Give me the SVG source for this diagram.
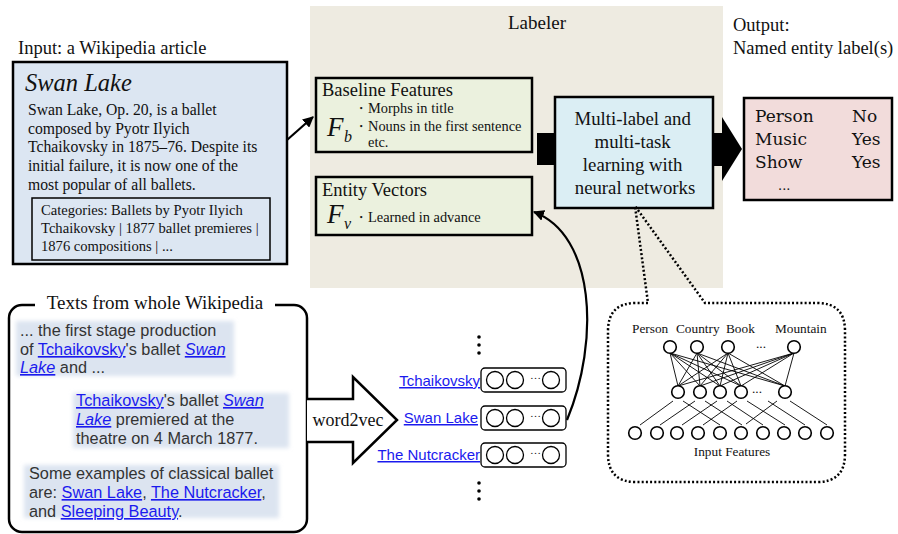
<svg xmlns="http://www.w3.org/2000/svg" width="898" height="534" viewBox="0 0 898 534">
<style>
.serif{font-family:"Liberation Serif","Times New Roman",serif;fill:#111}
.sans{font-family:"Liberation Sans",Arial,sans-serif;fill:#333;font-size:16.3px}
.vlabel{font-family:"Liberation Sans",Arial,sans-serif;font-size:15px}
.link{fill:#1a1aee;text-decoration:underline}
.box{stroke:#000;stroke-width:2.5}
.nn{fill:#fff;stroke:#000;stroke-width:1.6}
.nl{stroke:#000;stroke-width:0.9}
.vec{fill:#fff;stroke:#000;stroke-width:1.3}
.dot{fill:none;stroke:#000;stroke-width:2.5;stroke-dasharray:2 2.2}
</style>
<defs>
<marker id="ah" viewBox="0 0 10 10" refX="9" refY="5" markerWidth="5" markerHeight="5" orient="auto">
<path d="M0,0 L10,5 L0,10 z" fill="#000"/>
</marker>
<filter id="blur" x="-10%" y="-20%" width="120%" height="140%"><feGaussianBlur stdDeviation="2"/></filter>
<g id="vecbox">
<rect class="vec" x="0" y="0" width="85" height="24" rx="4"/>
<circle cx="14" cy="12" r="8.5" fill="none" stroke="#000" stroke-width="1.3"/>
<circle cx="34" cy="12" r="8.5" fill="none" stroke="#000" stroke-width="1.3"/>
<text x="49" y="11" class="serif" font-size="11">…</text>
<circle cx="70" cy="12" r="8.5" fill="none" stroke="#000" stroke-width="1.3"/>
</g>
</defs>

<g id="labeler">
<rect x="310" y="6" width="413" height="282" fill="#eeebe1"/>
<text x="537" y="29" class="serif" font-size="19" text-anchor="middle">Labeler</text>
</g>

<g id="output-title">
<text x="733" y="31" class="serif" font-size="18.5">Output:</text>
<text x="733" y="54" class="serif" font-size="18.5">Named entity label(s)</text>
</g>

<g id="input-article">
<text x="18" y="54" class="serif" font-size="18.5">Input: a Wikipedia article</text>
<rect class="box" x="13" y="62" width="274" height="202" fill="#dce6f2"/>
<text x="25" y="91" class="serif" font-size="24.5" font-style="italic">Swan Lake</text>
<text class="serif" font-size="15.7">
<tspan x="28" y="115">Swan Lake, Op. 20, is a ballet</tspan>
<tspan x="28" y="134">composed by Pyotr Ilyich</tspan>
<tspan x="28" y="152">Tchaikovsky in 1875–76. Despite its</tspan>
<tspan x="28" y="171">initial failure, it is now one of the</tspan>
<tspan x="28" y="190">most popular of all ballets.</tspan>
</text>
<rect x="32" y="198" width="238" height="62" fill="none" stroke="#000" stroke-width="1.5"/>
<text class="serif" font-size="14.6">
<tspan x="41" y="215">Categories: Ballets by Pyotr Ilyich</tspan>
<tspan x="41" y="233">Tchaikovsky | 1877 ballet premieres |</tspan>
<tspan x="41" y="251">1876 compositions | ...</tspan>
</text>
</g>

<g id="baseline-features">
<rect class="box" x="316" y="78" width="216" height="74" fill="#ebf1de"/>
<text x="322" y="96" class="serif" font-size="18.5">Baseline Features</text>
<text x="354" y="113" class="serif" font-size="14.4">・Morphs in title</text>
<text x="354" y="131" class="serif" font-size="14.4">・Nouns in the first sentence</text>
<text x="368" y="147" class="serif" font-size="14.4">etc.</text>
<text x="327" y="136" class="serif" font-size="27" font-style="italic">F</text>
<text x="344" y="142" class="serif" font-size="16" font-style="italic">b</text>
</g>

<g id="entity-vectors">
<rect class="box" x="316" y="177" width="216" height="58" fill="#ebf1de"/>
<text x="322" y="196" class="serif" font-size="18.5">Entity Vectors</text>
<text x="327" y="223" class="serif" font-size="27" font-style="italic">F</text>
<text x="344" y="229" class="serif" font-size="16" font-style="italic">v</text>
<text x="354" y="222" class="serif" font-size="14.4">・Learned in advance</text>
</g>

<g id="multilabel">
<rect class="box" x="555" y="97" width="158" height="111" fill="#dbeef4"/>
<text class="serif" font-size="18.8" text-anchor="middle">
<tspan x="635" y="125">Multi-label and</tspan>
<tspan x="635" y="148">multi-task</tspan>
<tspan x="635" y="171">learning with</tspan>
<tspan x="635" y="194">neural networks</tspan>
</text>
</g>

<g id="output-box">
<rect class="box" x="744" y="98" width="148" height="102" fill="#f2dcdb"/>
<g font-family="'DejaVu Serif','Liberation Serif',serif" font-size="17" fill="#111">
<text x="755" y="122">Person</text>
<text x="852" y="122">No</text>
<text x="755" y="145">Music</text>
<text x="852" y="145">Yes</text>
<text x="755" y="168">Show</text>
<text x="852" y="168">Yes</text>
<text x="778" y="190" font-size="13">...</text>
</g>
</g>

<g id="texts-wikipedia">
<rect x="9" y="305" width="298" height="227" rx="13" fill="none" stroke="#000" stroke-width="2.5"/>
<rect x="35" y="294" width="240" height="22" fill="#fff"/>
<text x="155" y="309" class="serif" font-size="19" text-anchor="middle">Texts from whole Wikipedia</text>
<rect x="16" y="321" width="218" height="55" fill="#dce4f0" filter="url(#blur)"/>
<rect x="73" y="393" width="216" height="55" fill="#dce4f0" filter="url(#blur)"/>
<rect x="24" y="465" width="255" height="53" fill="#dce4f0" filter="url(#blur)"/>
<text class="sans">
<tspan x="20" y="336">... the first stage production</tspan>
<tspan x="20" y="355">of </tspan><tspan class="link">Tchaikovsky</tspan><tspan>'s ballet </tspan><tspan class="link" font-style="italic">Swan</tspan>
<tspan x="20" y="373" class="link" font-style="italic">Lake</tspan><tspan> and ...</tspan>
</text>
<text class="sans">
<tspan x="76" y="406" class="link">Tchaikovsky</tspan><tspan>'s ballet </tspan><tspan class="link" font-style="italic">Swan</tspan>
<tspan x="76" y="425" class="link" font-style="italic">Lake</tspan><tspan> premiered at the</tspan>
<tspan x="76" y="444">theatre on 4 March 1877.</tspan>
</text>
<text class="sans">
<tspan x="29" y="479">Some examples of classical ballet</tspan>
<tspan x="29" y="498">are: </tspan><tspan class="link">Swan Lake</tspan><tspan>, </tspan><tspan class="link">The Nutcracker</tspan><tspan>,</tspan>
<tspan x="29" y="517">and </tspan><tspan class="link">Sleeping Beauty</tspan><tspan>.</tspan>
</text>
</g>

<g id="word2vec">
<path d="M307 399 H353 V377 L397 420 L353 463 V442 H307" fill="#fff" stroke="#000" stroke-width="2.5" stroke-linejoin="miter"/>
<text x="348" y="426" class="serif" font-size="18" text-anchor="middle">word2vec</text>
</g>

<g id="vectors">
<g fill="#000"><circle cx="479" cy="337" r="1.8"/><circle cx="479" cy="345" r="1.8"/><circle cx="479" cy="353" r="1.8"/>
<circle cx="479" cy="483" r="1.8"/><circle cx="479" cy="491" r="1.8"/><circle cx="479" cy="499" r="1.8"/></g>
<text x="480" y="386" class="vlabel link" text-anchor="end">Tchaikovsky</text>
<use href="#vecbox" x="481" y="368"/>
<text x="478" y="423" class="vlabel link" text-anchor="end">Swan Lake</text>
<use href="#vecbox" x="481" y="406"/>
<text x="480" y="460" class="vlabel link" text-anchor="end">The Nutcracker</text>
<use href="#vecbox" x="481" y="443"/>
</g>

<g id="neural-net">
<path class="dot" d="M648 303 H636 Q608 303 608 331 V454 Q608 482 636 482 H817 Q845 482 845 454 V331 Q845 303 817 303 H705 L635 206 Z"/>
<g class="serif" font-size="13.3">
<text x="632" y="333">Person</text>
<text x="676" y="333">Country</text>
<text x="726" y="333">Book</text>
<text x="775" y="333">Mountain</text>
<text x="756" y="348">...</text>
<text x="752" y="393">...</text>
<text x="732" y="456" text-anchor="middle">Input Features</text>
</g>
<g class="nl">
<line x1="670" y1="353" x2="678" y2="386"/><line x1="670" y1="353" x2="700" y2="386"/><line x1="670" y1="353" x2="720" y2="386"/><line x1="670" y1="353" x2="741" y2="386"/><line x1="670" y1="353" x2="785" y2="386"/>
<line x1="697" y1="353" x2="678" y2="386"/><line x1="697" y1="353" x2="700" y2="386"/><line x1="697" y1="353" x2="720" y2="386"/><line x1="697" y1="353" x2="741" y2="386"/><line x1="697" y1="353" x2="785" y2="386"/>
<line x1="728" y1="353" x2="678" y2="386"/><line x1="728" y1="353" x2="700" y2="386"/><line x1="728" y1="353" x2="720" y2="386"/><line x1="728" y1="353" x2="741" y2="386"/><line x1="728" y1="353" x2="785" y2="386"/>
<line x1="794" y1="353" x2="678" y2="386"/><line x1="794" y1="353" x2="700" y2="386"/><line x1="794" y1="353" x2="720" y2="386"/><line x1="794" y1="353" x2="741" y2="386"/><line x1="794" y1="353" x2="785" y2="386"/>
<line x1="673" y1="401" x2="640" y2="425"/>
<line x1="695" y1="401" x2="660" y2="425"/>
<line x1="717" y1="401" x2="682" y2="425"/>
<line x1="737" y1="401" x2="703" y2="425"/>
<line x1="777" y1="401" x2="746" y2="424"/>
<line x1="683" y1="401" x2="720" y2="425"/>
<line x1="705" y1="401" x2="742" y2="425"/>
<line x1="727" y1="401" x2="763" y2="425"/>
<line x1="747" y1="401" x2="785" y2="425"/>
<line x1="768" y1="401" x2="805" y2="425"/>
<line x1="790" y1="401" x2="827" y2="425"/>
</g>
<g class="nn">
<circle cx="670" cy="347" r="6.3"/><circle cx="697" cy="347" r="6.3"/><circle cx="728" cy="347" r="6.3"/><circle cx="794" cy="347" r="6.3"/>
<circle cx="678" cy="392" r="6.3"/><circle cx="700" cy="392" r="6.3"/><circle cx="720" cy="392" r="6.3"/><circle cx="741" cy="392" r="6.3"/><circle cx="785" cy="392" r="6.3"/>
<circle cx="635" cy="433" r="6.3"/><circle cx="657" cy="433" r="6.3"/><circle cx="677" cy="433" r="6.3"/><circle cx="698" cy="433" r="6.3"/><circle cx="720" cy="433" r="6.3"/><circle cx="741" cy="433" r="6.3"/><circle cx="763" cy="433" r="6.3"/><circle cx="784" cy="433" r="6.3"/><circle cx="805" cy="433" r="6.3"/><circle cx="827" cy="433" r="6.3"/>
</g>
</g>

<g id="connectors">
<line x1="287" y1="140" x2="313" y2="117" stroke="#000" stroke-width="2.2" marker-end="url(#ah)"/>
<rect x="537" y="133" width="18" height="32" fill="#000"/>
<path d="M713 133 H722 V117 L742 149 L722 181 V166 H713 Z" fill="#000"/>
<path d="M567 420 C 600 340, 595 235, 534 212" fill="none" stroke="#000" stroke-width="2.2" marker-end="url(#ah)"/>
</g>
</svg>
